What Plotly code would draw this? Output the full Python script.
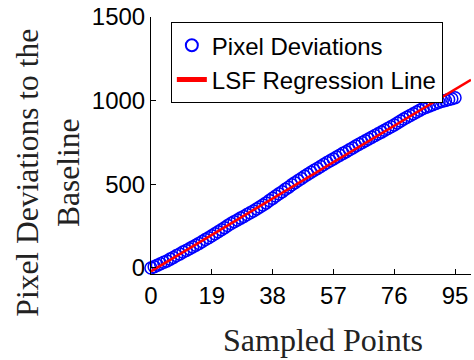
import plotly.graph_objects as go

# Sampled point index
sample_x = list(range(0, 96))
# Pixel deviations to the baseline
pixel_dev = [0, 8, 17, 25, 34, 42, 53, 63, 74, 84,
             95, 105, 115, 126, 136, 147, 158, 170, 181, 193,
             204, 216, 229, 241, 254, 266, 277, 287, 298, 308,
             319, 330, 341, 353, 364, 376, 389, 403, 416, 430,
             443, 456, 470, 483, 497, 510, 523, 535, 548, 560,
             572, 584, 595, 607, 618, 630, 641, 652, 663, 674,
             685, 695, 707, 717, 729, 739, 750, 760, 771, 781,
             792, 802, 812, 823, 833, 844, 855, 867, 878, 890,
             901, 911, 922, 932, 943, 953, 961, 968, 976, 983,
             990, 996, 1001, 1007, 1012, 1018]

# LSF regression line end points
reg_x = [0, 100]
reg_y = [-20, 1125]

x_ticks = [0, 19, 38, 57, 76, 95]
y_ticks = [0, 500, 1000, 1500]

fig = go.Figure()
fig.add_trace(go.Scatter(
    x=sample_x, y=pixel_dev, mode="markers", name="Pixel Deviations",
    marker=dict(symbol="circle-open", size=12, color="#0000ff", line=dict(width=1.5, color="#0000ff")),
    cliponaxis=False,
))
fig.add_trace(go.Scatter(
    x=reg_x, y=reg_y, mode="lines", name="LSF Regression Line",
    line=dict(color="#ff0000", width=2.5),
    cliponaxis=False,
))

sans = "Liberation Sans, Arial, sans-serif"
serif = "Liberation Serif, Times New Roman, serif"

fig.update_layout(
    width=474, height=360,
    margin=dict(l=151, r=3, t=17, b=86),
    paper_bgcolor="white", plot_bgcolor="white",
    showlegend=True,
    legend=dict(
        x=0.062, y=0.98, xanchor="left", yanchor="top",
        bgcolor="white", bordercolor="black", borderwidth=1,
        font=dict(family=sans, size=24, color="black"),
        itemwidth=30, tracegroupgap=0, itemsizing="constant",
    ),
    xaxis=dict(
        range=[0, 100], tickvals=x_ticks, ticktext=[str(v) for v in x_ticks],
        showgrid=False, zeroline=False, showline=True, linecolor="black", linewidth=1,
        ticks="inside", ticklen=5, tickcolor="black", automargin=False,
        tickfont=dict(family=sans, size=24, color="black"),
    ),
    yaxis=dict(
        range=[-36, 1500], tickvals=y_ticks, ticktext=[str(v) for v in y_ticks],
        showgrid=False, zeroline=False, showline=True, linecolor="black", linewidth=1,
        ticks="inside", ticklen=5, tickcolor="black", automargin=False,
        tickfont=dict(family=sans, size=24, color="black"),
    ),
    annotations=[
        dict(text="Sampled Points", xref="paper", yref="paper", x=0.5375, y=-0.257,
             xanchor="center", yanchor="middle", showarrow=False,
             font=dict(family=serif, size=32, color="#222222")),
        dict(text="Pixel Deviations to the<br>Baseline", xref="paper", yref="paper",
             x=-0.323, y=0.393, xanchor="center", yanchor="middle", showarrow=False,
             textangle=-90, font=dict(family=serif, size=31.5, color="#222222")),
    ],
)

fig.write_html("out.html", config={"displayModeBar": False},
               post_script="document.body.style.margin='0px';")
